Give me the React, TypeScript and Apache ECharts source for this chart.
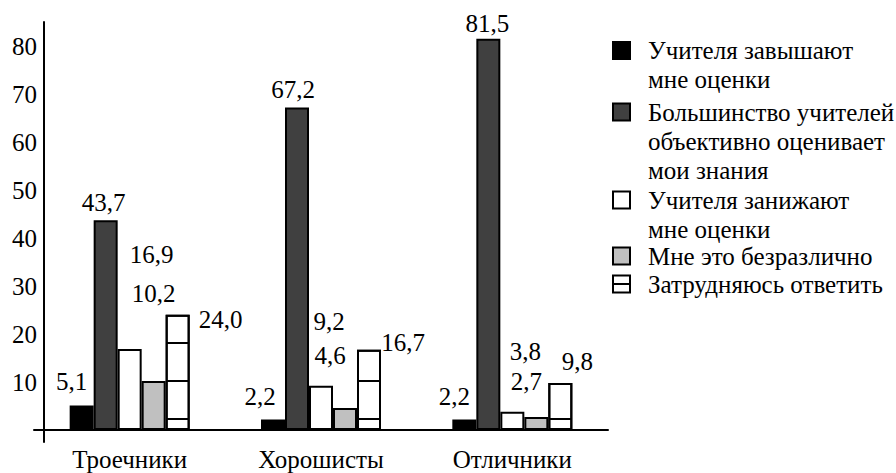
import React, { useEffect, useRef } from 'react';
import * as echarts from 'echarts';

// ---- data ----
const categories = ['Троечники', 'Хорошисты', 'Отличники'];
const seriesNames = [
  'Учителя завышают\nмне оценки',
  'Большинство учителей\nобъективно оценивает\nмои знания',
  'Учителя занижают\nмне оценки',
  'Мне это безразлично',
  'Затрудняюсь ответить',
];
const overrate = [5.1, 2.2, 2.2];
const objective = [43.7, 67.2, 81.5];
const underrate = [16.9, 9.2, 3.8];
const indifferent = [10.2, 4.6, 2.7];
const noAnswer = [24.0, 16.7, 9.8];
const yTickLabels = [10, 20, 30, 40, 50, 60, 70, 80];

// ---- styles ----
const FONT = '"Liberation Serif", "Liberation Sans", sans-serif';
const FS = 25;
const fills = ['#000000', '#404040', '#ffffff', '#c0c0c0', '#ffffff'];
const labelOffsets: number[][][] = [
  [[-10, -7], [-13, -5], [-10, -5]],
  [[-2, 0], [-4, 0], [-1, 2]],
  [[22, -77], [8, -47], [13, -43]],
  [[0, -70], [-15, -35], [-10, -18]],
  [[43, 22], [34, 10], [17, -4]],
];
const legendFirstRowY = [49.5, 111, 199, 255, 283];
const LINE_H = 29;

const fmt = (v: number) => v.toFixed(1).replace('.', ',');

export default function App() {
  const ref = useRef<HTMLDivElement>(null);
  useEffect(() => {
    if (!ref.current) return;
    const chart = echarts.init(ref.current, null, { renderer: 'svg' });
    const allValues = [overrate, objective, underrate, indifferent, noAnswer];

    const series = allValues.map((vals, s) => ({
      type: 'bar',
      name: seriesNames[s],
      barWidth: 24,
      barGap: '0%',
      itemStyle: {
        color: fills[s],
        borderColor: '#000',
        borderWidth: 2,
        ...(s === 4
          ? {
              decal: {
                symbol: 'rect',
                symbolSize: 1,
                color: '#000',
                dashArrayX: [5, 0],
                dashArrayY: [2, 36],
                rotation: 0,
              },
            }
          : {}),
      },
      label: {
        show: true,
        position: 'top',
        distance: 5,
        fontFamily: FONT,
        fontSize: FS,
        color: '#000',
        formatter: (p: any) => fmt(p.value),
      },
      emphasis: { disabled: true },
      data: vals.map((v, i) => ({ value: v, label: { offset: labelOffsets[s][i] } })),
    }));

    const legends = seriesNames.map((name, s) => {
      const lines = name.split('\n').length;
      const h = LINE_H * lines;
      const extra = s === 4 ? ' M0,14.5H17' : '';
      return {
        show: true,
        orient: 'vertical',
        left: 612,
        top: legendFirstRowY[s] - LINE_H / 2,
        padding: 0,
        itemWidth: 30,
        itemHeight: h,
        selectedMode: false,
        data: [
          {
            name,
            icon: `path://M0,6H17V23H0Z${extra} M0,0 M30,${h}`,
            itemStyle: { decal: 'none', borderWidth: 2, borderColor: '#000' },
          },
        ],
        textStyle: {
          fontFamily: FONT,
          fontSize: FS,
          lineHeight: LINE_H,
          color: '#000',
        },
      };
    });

    chart.setOption({
      animation: false,
      backgroundColor: '#ffffff',
      textStyle: { fontFamily: FONT },
      grid: { left: 34, right: 288, top: 22, bottom: 31, containLabel: false, outerBoundsMode: 'none' },
      legend: legends,
      xAxis: {
        type: 'category',
        data: categories,
        axisLine: { show: true, onZero: true, lineStyle: { color: '#000', width: 2 } },
        axisTick: { show: false },
        axisLabel: { margin: 5, fontFamily: FONT, fontSize: FS, color: '#000' },
        splitLine: { show: false },
      },
      yAxis: {
        type: 'value',
        min: -2.5,
        max: 85,
        minInterval: 10,
        maxInterval: 10,
        offset: -10,
        axisLine: { show: true, lineStyle: { color: '#000', width: 2 } },
        axisTick: { show: false },
        splitLine: { show: false },
        axisLabel: {
          margin: 7,
          fontFamily: FONT,
          fontSize: FS,
          color: '#000',
          showMinLabel: false,
          showMaxLabel: false,
          formatter: (v: number) => (yTickLabels.includes(v) ? String(v) : ''),
        },
      },
      series,
    });
    return () => chart.dispose();
  }, []);
  return (
    <div
      ref={ref}
      style={{ position: 'fixed', left: 0, top: 0, width: 896, height: 473, background: '#fff' }}
    />
  );
}
